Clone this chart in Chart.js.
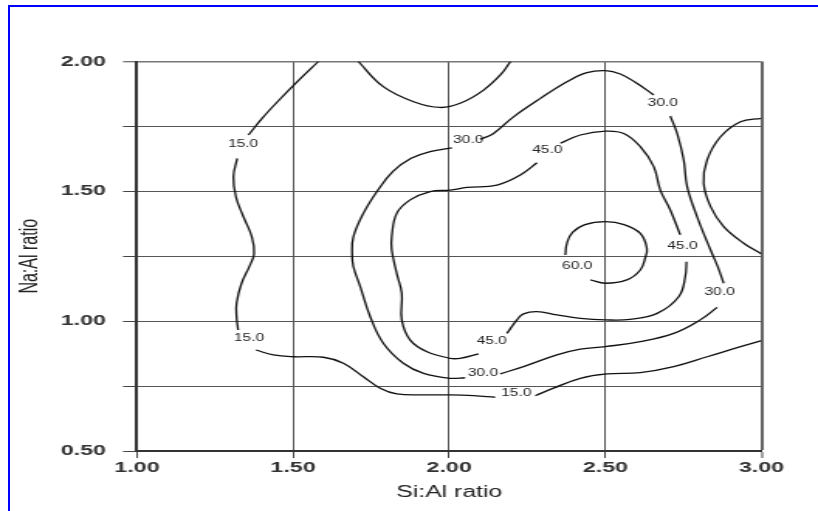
<!DOCTYPE html>
<html>
<head>
<meta charset="utf-8">
<script src="https://cdn.jsdelivr.net/npm/chart.js@4.4.0/dist/chart.umd.min.js"></script>
<style>
  html, body { margin: 0; padding: 0; background: #fff; width: 818px; height: 511px; overflow: hidden; }
  #frame { position: absolute; left: 8px; top: 5px; width: 900px; height: 600px;
           border-left: 2px solid #0000ff; border-top: 2px solid #0000ff; }
  /* the original picture is stretched sideways, so the chart is drawn narrow and widened */
  #wrap { position: absolute; left: 0; top: 0; width: 528px; height: 511px;
          transform: scaleX(1.5492); transform-origin: 0 0; }
</style>
</head>
<body>
<div id="frame"></div>
<div id="wrap"><canvas id="contour"></canvas></div>
<script>
// axis ticks
const xTicks = [1.00, 1.50, 2.00, 2.50, 3.00];
const yTicks = [0.50, 1.00, 1.50, 2.00];

// contour pieces, [Si:Al, Na:Al], split where the labels sit
const level15 = [
    [[1.581, 2.0], [1.52, 1.93], [1.45, 1.845], [1.40, 1.78], [1.357, 1.717]],
    [[1.321, 1.627], [1.309, 1.556], [1.317, 1.479], [1.341, 1.402], [1.368, 1.325], [1.375, 1.26],
     [1.362, 1.216], [1.335, 1.146], [1.319, 1.069], [1.319, 1.017], [1.324, 0.966]],
    [[1.381, 0.889], [1.437, 0.870], [1.5, 0.863], [1.597, 0.861], [1.661, 0.838], [1.725, 0.786],
     [1.779, 0.742], [1.832, 0.720], [1.918, 0.716], [2.003, 0.716], [2.078, 0.713], [2.147, 0.707]],
    [[2.276, 0.713], [2.334, 0.742], [2.420, 0.780], [2.505, 0.797], [2.612, 0.802], [2.719, 0.825],
     [2.826, 0.863], [2.933, 0.902], [3.0, 0.925]],
    [[1.709, 2.0], [1.789, 1.903], [1.886, 1.845], [1.971, 1.823], [2.035, 1.839], [2.11, 1.89],
     [2.169, 1.955], [2.196, 2.0]]
];

const level30 = [
    [[2.655, 1.871], [2.601, 1.916], [2.548, 1.952], [2.5, 1.965], [2.441, 1.957], [2.377, 1.922],
     [2.292, 1.858], [2.206, 1.787], [2.142, 1.723], [2.099, 1.70]],
    [[2.009, 1.667], [1.939, 1.653], [1.878, 1.627], [1.82, 1.577], [1.772, 1.505], [1.725, 1.415],
     [1.693, 1.325], [1.689, 1.26], [1.693, 1.210], [1.715, 1.133], [1.747, 1.017], [1.789, 0.915],
     [1.853, 0.838], [1.918, 0.799], [2.003, 0.780], [2.051, 0.782]],
    [[2.163, 0.797], [2.238, 0.825], [2.345, 0.870], [2.42, 0.892], [2.5, 0.902], [2.612, 0.921],
     [2.719, 0.953], [2.804, 1.005], [2.858, 1.053]],
    [[2.879, 1.146], [2.86, 1.21], [2.837, 1.274], [2.794, 1.402], [2.762, 1.518], [2.751, 1.621],
     [2.730, 1.723], [2.708, 1.790]],
    [[3.0, 1.781], [2.933, 1.768], [2.869, 1.710], [2.826, 1.621], [2.815, 1.531], [2.837, 1.441],
     [2.879, 1.364], [2.943, 1.300], [3.0, 1.259]]
];

const level45 = [
    [[2.356, 1.685], [2.42, 1.717], [2.5, 1.732], [2.559, 1.723], [2.612, 1.672], [2.655, 1.595],
     [2.676, 1.505], [2.708, 1.428], [2.740, 1.332]],
    [[2.760, 1.229], [2.756, 1.171], [2.735, 1.094], [2.666, 1.030], [2.580, 1.007], [2.5, 1.005],
     [2.42, 1.011], [2.345, 1.024], [2.281, 1.037], [2.238, 1.028], [2.217, 1.005], [2.185, 0.953]],
    [[2.094, 0.874], [2.035, 0.857], [2.003, 0.857], [1.929, 0.882], [1.875, 0.927], [1.848, 1.005],
     [1.848, 1.107], [1.832, 1.184], [1.816, 1.274], [1.816, 1.325], [1.832, 1.415], [1.875, 1.467],
     [1.939, 1.499], [2.003, 1.505], [2.057, 1.515], [2.153, 1.524], [2.228, 1.563], [2.281, 1.610]]
];

const level60 = [
    [[2.372, 1.255], [2.377, 1.30], [2.395, 1.342], [2.435, 1.372], [2.5, 1.383], [2.56, 1.372],
     [2.612, 1.338], [2.633, 1.28], [2.628, 1.245], [2.612, 1.197], [2.569, 1.159], [2.5, 1.146],
     [2.452, 1.159]]
];

// contour labels
const labelText = ['15.0', '15.0', '15.0', '30.0', '30.0', '30.0', '30.0', '45.0', '45.0', '45.0', '60.0'];
const labelX = [1.340, 1.359, 2.215, 2.061, 2.684, 2.108, 2.866, 2.314, 2.747, 2.136, 2.410];
const labelY = [1.683, 0.936, 0.721, 1.697, 1.841, 0.800, 1.110, 1.658, 1.288, 0.924, 1.210];

const FONT = "'Liberation Sans', Arial, sans-serif";

function toPoints(piece) {
    return piece.map(p => ({x: p[0], y: p[1]}));
}

let datasets = [];
[level15, level30, level45, level60].forEach(level => {
    level.forEach(piece => {
        datasets.push({
            data: toPoints(piece),
            showLine: true,
            borderColor: '#111',
            borderWidth: 1.3,
            tension: 0.4,
            pointRadius: 0,
            fill: false
        });
    });
});

const contourLabels = {
    id: 'contourLabels',
    afterDatasetsDraw(chart) {
        const ctx = chart.ctx;
        const sx = chart.scales.x, sy = chart.scales.y;
        ctx.save();
        ctx.font = '10px ' + FONT;
        ctx.fillStyle = '#222';
        ctx.textAlign = 'center';
        ctx.textBaseline = 'middle';
        for (let i = 0; i < labelText.length; i++)
            ctx.fillText(labelText[i], sx.getPixelForValue(labelX[i]), sy.getPixelForValue(labelY[i]));
        ctx.restore();
    }
};

function isLabelled(list, v) {
    return list.some(t => Math.abs(t - v) < 1e-6);
}

new Chart(document.getElementById('contour').getContext('2d'), {
    type: 'scatter',
    data: {datasets: datasets},
    plugins: [contourLabels],
    options: {
        responsive: true,
        maintainAspectRatio: false,
        animation: false,
        layout: {padding: {left: 0, right: 36.5, top: 61.5, bottom: 0}},
        plugins: {legend: {display: false}, tooltip: {enabled: false}},
        scales: {
            x: {
                type: 'linear', min: 1, max: 3,
                ticks: {
                    stepSize: 0.5, autoSkip: false, maxRotation: 0, padding: 1,
                    callback: v => isLabelled(xTicks, v) ? v.toFixed(2) : '',
                    font: {family: FONT, size: 15, weight: 'bold'}, color: '#333'
                },
                grid: {
                    color: ctx => ctx.tick && ctx.tick.value === 3 ? '#666' : '#555',
                    lineWidth: ctx => ctx.tick && ctx.tick.value === 3 ? 2 : 1,
                    tickLength: 7, tickColor: '#444', tickWidth: 1
                },
                border: {display: true, color: '#333', width: 2},
                title: {
                    display: true, text: 'Si:Al ratio', color: '#222',
                    font: {family: FONT, size: 16}, padding: {top: 0, bottom: 9}
                },
                afterFit: s => { s.height = 60; }
            },
            y: {
                type: 'linear', min: 0.5, max: 2,
                ticks: {
                    stepSize: 0.25, padding: 11,
                    callback: v => isLabelled(yTicks, v) ? v.toFixed(2) : '',
                    font: {family: FONT, size: 15, weight: 'bold'}, color: '#333'
                },
                grid: {
                    color: ctx => ctx.tick && ctx.tick.value === 2 ? '#777' : '#555',
                    lineWidth: ctx => ctx.tick && ctx.tick.value === 2 ? 1.5 : 1,
                    tickLength: 9, tickColor: '#444', tickWidth: 1
                },
                border: {display: true, color: '#333', width: 2},
                title: {
                    display: true, text: 'Na:Al ratio', color: '#222',
                    font: {family: FONT, size: 16}, padding: {top: 10, bottom: 0}
                },
                afterFit: s => { s.width = 88.4; }
            }
        }
    }
});
</script>
</body>
</html>
